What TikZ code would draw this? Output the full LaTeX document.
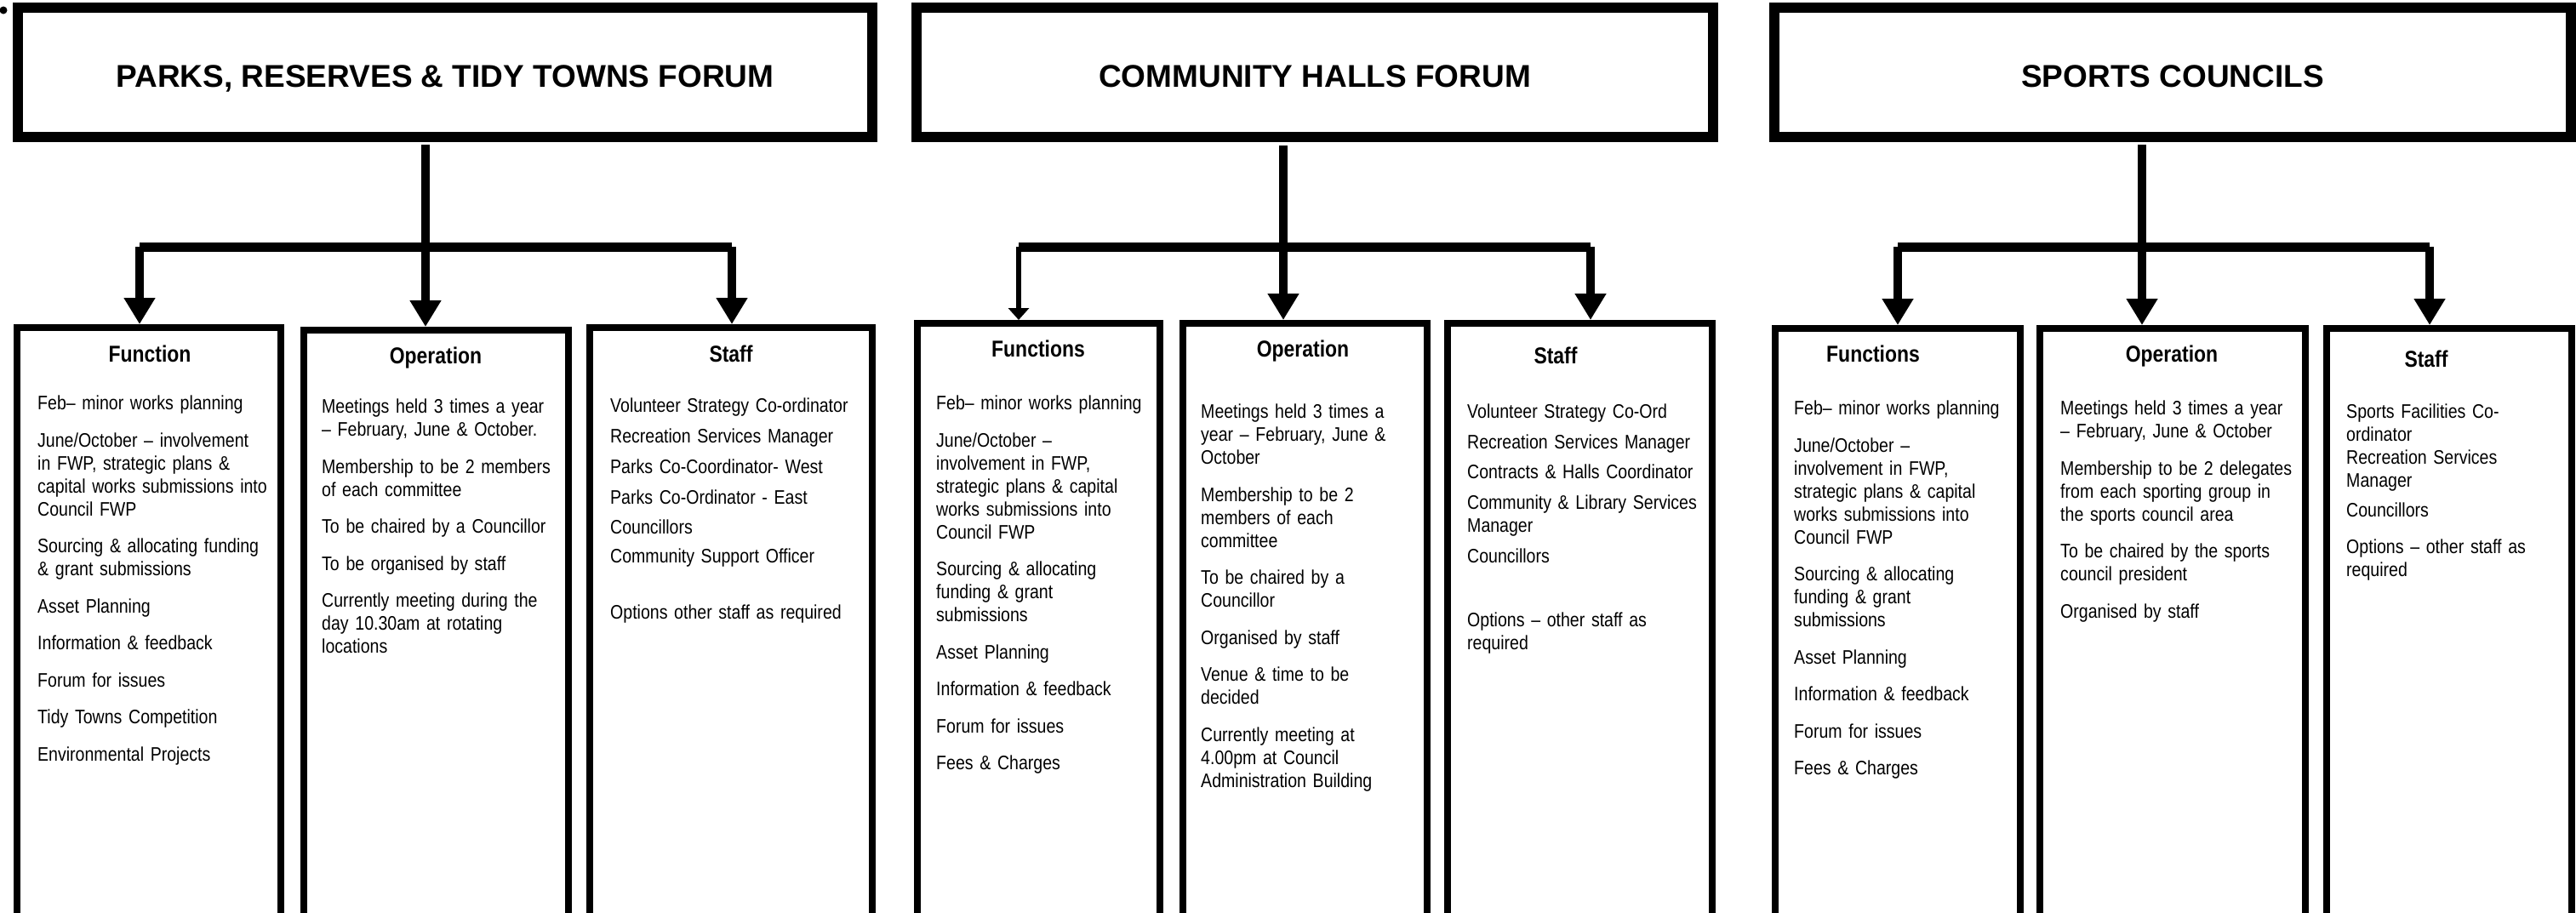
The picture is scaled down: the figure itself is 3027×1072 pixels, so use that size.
\documentclass[tikz,border=0pt]{standalone}
\usepackage{fontspec}
\setmainfont{Liberation Sans}
\newfontfamily\narrowfont[FakeStretch=0.85]{Liberation Sans}
\usetikzlibrary{arrows.meta}
\tikzstyle{forumbox}=[draw, line width=12pt, inner sep=0pt, anchor=north west,
  minimum height=152pt, text height=34pt, text depth=0pt,
  font=\fontsize{37}{41}\selectfont\bfseries]
\tikzstyle{colbox}=[draw, line width=8pt, inner sep=0pt, anchor=north west,
  minimum height=720pt]
\tikzstyle{colhead}=[anchor=base, inner sep=0pt,
  font=\narrowfont\fontsize{27}{30}\selectfont\bfseries]
\tikzstyle{coltext}=[anchor=north west, inner sep=0pt, text width=360pt, align=left,
  font=\narrowfont\fontsize{23}{27}\selectfont]
\tikzstyle{bar}=[line width=11pt]
\tikzstyle{drop}=[line width=10pt, -{Triangle[length=31pt,width=35pt]}]
\tikzstyle{thindrop}=[line width=6pt, -{Triangle[length=14pt,width=24pt]}]
\newcommand{\forum}[3]{node (t#1) [forumbox, minimum width=#2] {#3}}
\newcommand{\pane}[2]{node (#1) [colbox, minimum width=#2] {}}
\newcommand{\pgap}{\\[16.5pt]}

\begin{document}
\begin{tikzpicture}[x=1pt, y=-1pt]
\useasboundingbox (0,0) rectangle (3027,1072);
\node (dot) [circle, fill, inner sep=0pt, minimum size=9pt] at (4,12) {};

% Forum boxes
\path (15,3)   \forum{1}{1004}{PARKS, RESERVES \& TIDY TOWNS FORUM};
\path (1071,3) \forum{2}{936}{COMMUNITY HALLS FORUM};
\path (2079,3) \forum{3}{936}{SPORTS COUNCILS};

% Column boxes
\path (16,381)   \pane{g1f}{310};
\path (353,384)  \pane{g1o}{311};
\path (689,381)  \pane{g1s}{332};
\path (1074,376) \pane{g2f}{285};
\path (1386,376) \pane{g2o}{287};
\path (1697,376) \pane{g2s}{311};
\path (2082,382) \pane{g3f}{288};
\path (2393,382) \pane{g3o}{312};
\path (2730,382) \pane{g3s}{288};

% Connectors
\coordinate (k1) at (500,170);  \coordinate (l1) at (164,290);  \coordinate (r1) at (860,290);
\coordinate (k2) at (1508,171); \coordinate (l2) at (1197,290); \coordinate (r2) at (1869,290);
\coordinate (k3) at (2517,170); \coordinate (l3) at (2230,290); \coordinate (r3) at (2855,290);
\draw [bar] (l1) -- (r1);
\draw [bar] (l2) -- (r2);
\draw [bar] (l3) -- (r3);
\draw [drop] (k1) -- (k1 |- g1o.north);
\draw [drop] (l1) -- (l1 |- g1f.north);
\draw [drop] (r1) -- (r1 |- g1s.north);
\draw [drop] (k2) -- (k2 |- g2o.north);
\draw [thindrop] (l2) -- (l2 |- g2f.north);
\draw [drop] (r2) -- (r2 |- g2s.north);
\draw [drop] (k3) -- (k3 |- g3o.north);
\draw [drop] (l3) -- (l3 |- g3f.north);
\draw [drop] (r3) -- (r3 |- g3s.north);

% Column headings
\node (h1f) [colhead] at (176,425)  {Function};
\node (h1o) [colhead] at (512,427)  {Operation};
\node (h1s) [colhead] at (859,425)  {Staff};
\node (h2f) [colhead] at (1220,419) {Functions};
\node (h2o) [colhead] at (1531,419) {Operation};
\node (h2s) [colhead] at (1828,427) {Staff};
\node (h3f) [colhead] at (2201,425) {Functions};
\node (h3o) [colhead] at (2552,425) {Operation};
\node (h3s) [colhead] at (2851,431) {Staff};

% Column texts
\node (x1f) [coltext] at (44,465) {Feb– minor works planning\pgap
  June/October – involvement\\ in FWP, strategic plans \&\\
  capital works submissions into\\ Council FWP\pgap
  Sourcing \& allocating funding\\ \& grant submissions\pgap
  Asset Planning\pgap Information \& feedback\pgap Forum for issues\pgap
  Tidy Towns Competition\pgap Environmental Projects};
\node (x1o) [coltext] at (378,469) {Meetings held 3 times a year\\
  – February, June \& October.\pgap
  Membership to be 2 members\\ of each committee\pgap
  To be chaired by a Councillor\pgap To be organised by staff\pgap
  Currently meeting during the\\ day 10.30am at rotating\\ locations};
\node (x1s) [coltext] at (717,468) {Volunteer Strategy Co-ordinator\\[9pt]
  Recreation Services Manager\\[9pt] Parks Co-Coordinator- West\\[9pt]
  Parks Co-Ordinator - East\\[8pt] Councillors\\[7pt]
  Community Support Officer\\[39pt] Options other staff as required};
\node (x2f) [coltext] at (1100,465) {Feb– minor works planning\pgap
  June/October –\\ involvement in FWP,\\ strategic plans \& capital\\
  works submissions into\\ Council FWP\pgap
  Sourcing \& allocating\\ funding \& grant\\ submissions\pgap
  Asset Planning\pgap Information \& feedback\pgap Forum for issues\pgap
  Fees \& Charges};
\node (x2o) [coltext] at (1411,475) {Meetings held 3 times a\\
  year – February, June \&\\ October\pgap
  Membership to be 2\\ members of each\\ committee\pgap
  To be chaired by a\\ Councillor\pgap Organised by staff\pgap
  Venue \& time to be\\ decided\pgap
  Currently meeting at\\ 4.00pm at Council\\ Administration Building};
\node (x2s) [coltext] at (1724,475) {Volunteer Strategy Co-Ord\\[8.5pt]
  Recreation Services Manager\\[8.5pt] Contracts \& Halls Coordinator\\[8.5pt]
  Community \& Library Services\\ Manager\\[9.5pt] Councillors\\[48pt]
  Options – other staff as\\ required};
\node (x3f) [coltext] at (2108,471) {Feb– minor works planning\pgap
  June/October –\\ involvement in FWP,\\ strategic plans \& capital\\
  works submissions into\\ Council FWP\pgap
  Sourcing \& allocating\\ funding \& grant\\ submissions\pgap
  Asset Planning\pgap Information \& feedback\pgap Forum for issues\pgap
  Fees \& Charges};
\node (x3o) [coltext] at (2421,471) {Meetings held 3 times a year\\
  – February, June \& October\pgap
  Membership to be 2 delegates\\ from each sporting group in\\
  the sports council area\pgap
  To be chaired by the sports\\ council president\pgap Organised by staff};
\node (x3s) [coltext] at (2757,475) {Sports Facilities Co-\\ ordinator\\
  Recreation Services\\ Manager\\[8pt] Councillors\\[15.5pt]
  Options – other staff as\\ required};
\end{tikzpicture}
\end{document}
